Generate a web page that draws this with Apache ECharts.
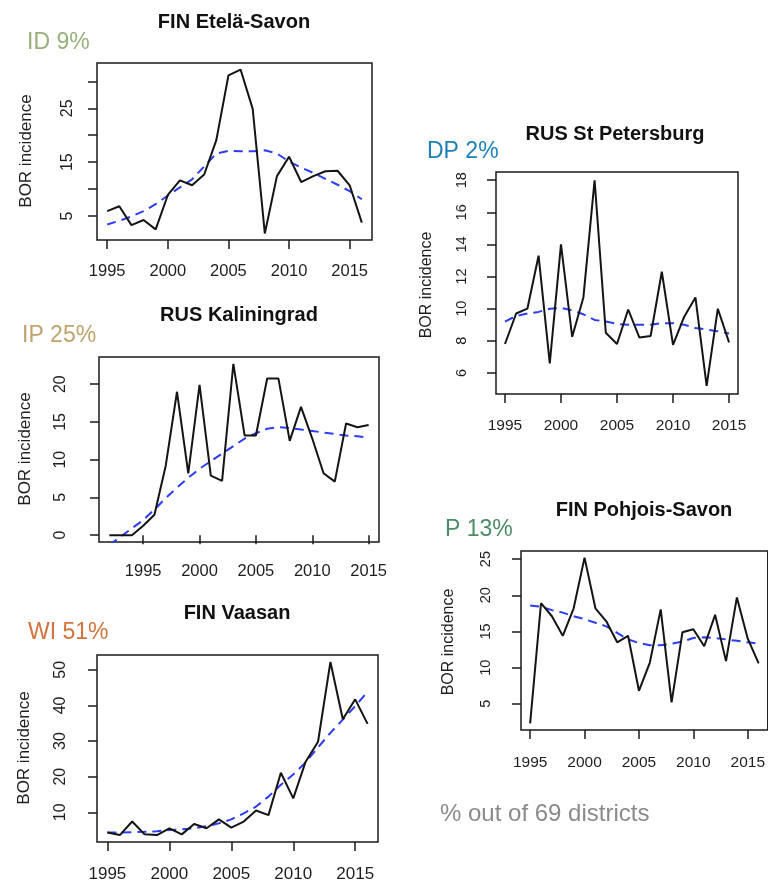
<!DOCTYPE html>
<html>
<head>
<meta charset="utf-8">
<script src="https://cdn.jsdelivr.net/npm/echarts@6/dist/echarts.min.js"></script>
<style>
html,body{margin:0;padding:0;background:#fff;}
#c{width:768px;height:883px;}
</style>
</head>
<body>
<div id="c"></div>
<script>
// ---------- data ----------
const yearsEtela = [1995,1996,1997,1998,1999,2000,2001,2002,2003,2004,2005,2006,2007,2008,2009,2010,2011,2012,2013,2014,2015,2016];
const obsEtela   = [5.9,6.8,3.3,4.25,2.5,8.9,11.6,10.7,12.7,19.1,31.1,32.2,24.9,1.75,12.4,16.0,11.3,12.4,13.3,13.4,10.7,3.75];
const trendEtela = [3.4,4.1,4.9,5.9,7.2,8.8,10.3,11.8,14.2,16.6,17.1,17.0,17.0,17.2,16.6,15.1,14.0,13.0,11.9,10.8,9.6,8.1];

const yearsKalin = [1992,1993,1994,1995,1996,1997,1998,1999,2000,2001,2002,2003,2004,2005,2006,2007,2008,2009,2010,2011,2012,2013,2014,2015];
const obsKalin   = [0,0,0,1.25,2.7,9.2,19.0,8.2,19.9,7.9,7.2,22.7,13.2,13.2,20.75,20.75,12.5,17.0,12.8,8.2,7.1,14.8,14.3,14.6];
const trendKalin = [-1.3,-0.2,0.9,2.0,3.4,4.9,6.3,7.6,8.8,9.8,10.8,11.8,12.8,13.5,14.1,14.3,14.2,14.0,13.8,13.6,13.4,13.2,13.1,12.9];

const yearsVaasa = [1995,1996,1997,1998,1999,2000,2001,2002,2003,2004,2005,2006,2007,2008,2009,2010,2011,2012,2013,2014,2015,2016];
const obsVaasa   = [4.3,3.6,7.4,3.8,3.6,5.5,3.8,6.7,5.5,8.0,5.7,7.4,10.5,9.2,21.1,13.9,24.2,29.8,52.2,36.1,41.7,34.8];
const trendVaasa = [4.3,4.3,4.4,4.5,4.7,5.0,5.2,5.5,6.1,6.9,8.0,9.7,11.6,14.4,17.7,20.6,24.0,28.2,32.3,36.0,39.8,43.8];

const yearsPeter = [1995,1996,1997,1998,1999,2000,2001,2002,2003,2004,2005,2006,2007,2008,2009,2010,2011,2012,2013,2014,2015];
const obsPeter   = [7.8,9.7,10.0,13.3,6.6,14.0,8.25,10.7,18.0,8.5,7.8,9.95,8.2,8.3,12.3,7.75,9.5,10.7,5.2,10.0,7.9];
const trendPeter = [9.2,9.55,9.7,9.8,10.0,10.05,9.9,9.65,9.3,9.2,9.05,9.0,9.0,9.0,9.1,9.1,9.0,8.8,8.7,8.6,8.45];

const yearsPohj  = [1995,1996,1997,1998,1999,2000,2001,2002,2003,2004,2005,2006,2007,2008,2009,2010,2011,2012,2013,2014,2015,2016];
const obsPohj    = [2.3,18.9,17.1,14.4,18.2,25.2,18.2,16.4,13.5,14.4,6.8,10.7,18.05,5.2,14.9,15.3,12.95,17.3,10.9,19.7,14.0,10.6];
const trendPohj  = [18.6,18.4,17.95,17.6,17.1,16.7,16.2,15.7,14.8,13.9,13.4,13.1,13.1,13.3,13.6,14.1,14.2,14.1,13.9,13.7,13.5,13.3];

const xTicks = [1995,2000,2005,2010,2015];
const yTicksEtela = [5,10,15,20,25,30];
const yLabelsEtela = [5,15,25];
const yTicksKalin = [0,5,10,15,20];
const yTicksVaasa = [10,20,30,40,50];
const yTicksPeter = [6,8,10,12,14,16,18];
const yTicksPohj  = [5,10,15,20,25];

const titles = ['FIN Etelä-Savon','RUS Kaliningrad','FIN Vaasan','RUS St Petersburg','FIN Pohjois-Savon'];
const tags = ['ID 9%','IP 25%','WI 51%','DP 2%','P 13%'];
const tagColors = ['#97b07c','#bfa26c','#d3723c','#1c7fb6','#4b8b66'];
const noteText = '% out of 69 districts';
const yName = 'BOR incidence';

// ---------- layout ----------
const panels = [
  {years:yearsEtela, obs:obsEtela, trend:trendEtela, yt:yTicksEtela, yl:yLabelsEtela,
   grid:{left:97,top:63,width:275,height:177}, xr:[1994.16,2016.84], yMargin:21, xMargin:23, xFont:16.5, yFont:16,
   title:[234,22], tag:[27,43], yn:[26,151], ynFont:17},
  {years:yearsKalin, obs:obsKalin, trend:trendKalin, yt:yTicksKalin, yl:yTicksKalin,
   grid:{left:99,top:357,width:280,height:185}, xr:[1991.08,2015.92], yMargin:30, xMargin:21, xFont:16.5, yFont:16,
   title:[239,315], tag:[22,336], yn:[25,449], ynFont:17},
  {years:yearsVaasa, obs:obsVaasa, trend:trendVaasa, yt:yTicksVaasa, yl:yTicksVaasa,
   grid:{left:97,top:655,width:281,height:188}, xr:[1994.16,2016.84], yMargin:28, xMargin:24, xFont:17, yFont:16,
   title:[237,613], tag:[28,633], yn:[24,748], ynFont:17},
  {years:yearsPeter, obs:obsPeter, trend:trendPeter, yt:yTicksPeter, yl:yTicksPeter,
   grid:{left:496,top:172,width:242,height:222}, xr:[1994.2,2015.8], yMargin:27, xMargin:24, xFont:15.5, yFont:14.5,
   title:[615,134], tag:[427,152], yn:[427,285], ynFont:16},
  {years:yearsPohj, obs:obsPohj, trend:trendPohj, yt:yTicksPohj, yl:yTicksPohj,
   grid:{left:521,top:551,width:249,height:179}, xr:[1994.16,2016.84], yMargin:28, xMargin:25, xFont:15.5, yFont:14.5,
   title:[644,510], tag:[445,530], yn:[449,642], ynFont:16}
];

const FONT = '"Liberation Sans", Arial, Helvetica, sans-serif';
const grids = [], xAxes = [], yAxes = [], series = [], graphics = [];

panels.forEach((p, i) => {
  const mn = Math.min(...p.obs), mx = Math.max(...p.obs);
  const ext = (mx - mn) * 0.04;
  grids.push(Object.assign({show:true, borderColor:'#1a1a1a', borderWidth:1.5, backgroundColor:'transparent'}, p.grid));
  xAxes.push({
    type:'value', gridIndex:i, min:p.xr[0], max:p.xr[1],
    axisLine:{show:false}, splitLine:{show:false},
    axisTick:{show:true, inside:false, length:9, customValues:xTicks, lineStyle:{color:'#1a1a1a', width:1.5}},
    axisLabel:{show:true, customValues:xTicks, margin:p.xMargin, fontSize:p.xFont, color:'#1e1e1e', fontFamily:FONT,
               formatter:v => String(Math.round(v)), hideOverlap:false, showMinLabel:true, showMaxLabel:true}
  });
  yAxes.push({
    type:'value', gridIndex:i, min:mn - ext, max:mx + ext,
    axisLine:{show:false}, splitLine:{show:false},
    axisTick:{show:true, inside:false, length:9, customValues:p.yt, lineStyle:{color:'#1a1a1a', width:1.5}},
    axisLabel:{show:true, customValues:p.yl, rotate:90, margin:p.yMargin, fontSize:p.yFont, color:'#1e1e1e', fontFamily:FONT,
               formatter:v => String(Math.round(v)), hideOverlap:false, showMinLabel:true, showMaxLabel:true}
  });
  series.push({
    type:'line', xAxisIndex:i, yAxisIndex:i, symbol:'none', clip:true, silent:true,
    data:p.years.map((y, k) => [y, p.obs[k]]),
    lineStyle:{color:'#141414', width:2}, z:3
  });
  series.push({
    type:'line', xAxisIndex:i, yAxisIndex:i, symbol:'none', clip:true, silent:true, smooth:false,
    data:p.years.map((y, k) => [y, p.trend[k]]),
    lineStyle:{color:'#2b3df2', width:2, type:[9,6]}, z:2
  });
  graphics.push({type:'text', x:p.title[0], y:p.title[1],
    style:{text:titles[i], font:'bold 20px ' + FONT, fill:'#111', align:'center', verticalAlign:'middle'}});
  graphics.push({type:'text', x:p.tag[0], y:p.tag[1],
    style:{text:tags[i], font:'23px ' + FONT, fill:tagColors[i], align:'left', verticalAlign:'middle'}});
  graphics.push({type:'text', x:p.yn[0], y:p.yn[1], rotation:Math.PI/2,
    style:{text:yName, font:p.ynFont + 'px ' + FONT, fill:'#1e1e1e', align:'center', verticalAlign:'middle'}});
});

graphics.push({type:'text', x:440, y:814,
  style:{text:noteText, font:'24px ' + FONT, fill:'#8a8a8a', align:'left', verticalAlign:'middle'}});

const chart = echarts.init(document.getElementById('c'), null, {renderer:'canvas'});
chart.setOption({
  backgroundColor:'#ffffff',
  animation:false,
  grid:grids, xAxis:xAxes, yAxis:yAxes, series:series,
  graphic:graphics
});
</script>
</body>
</html>
